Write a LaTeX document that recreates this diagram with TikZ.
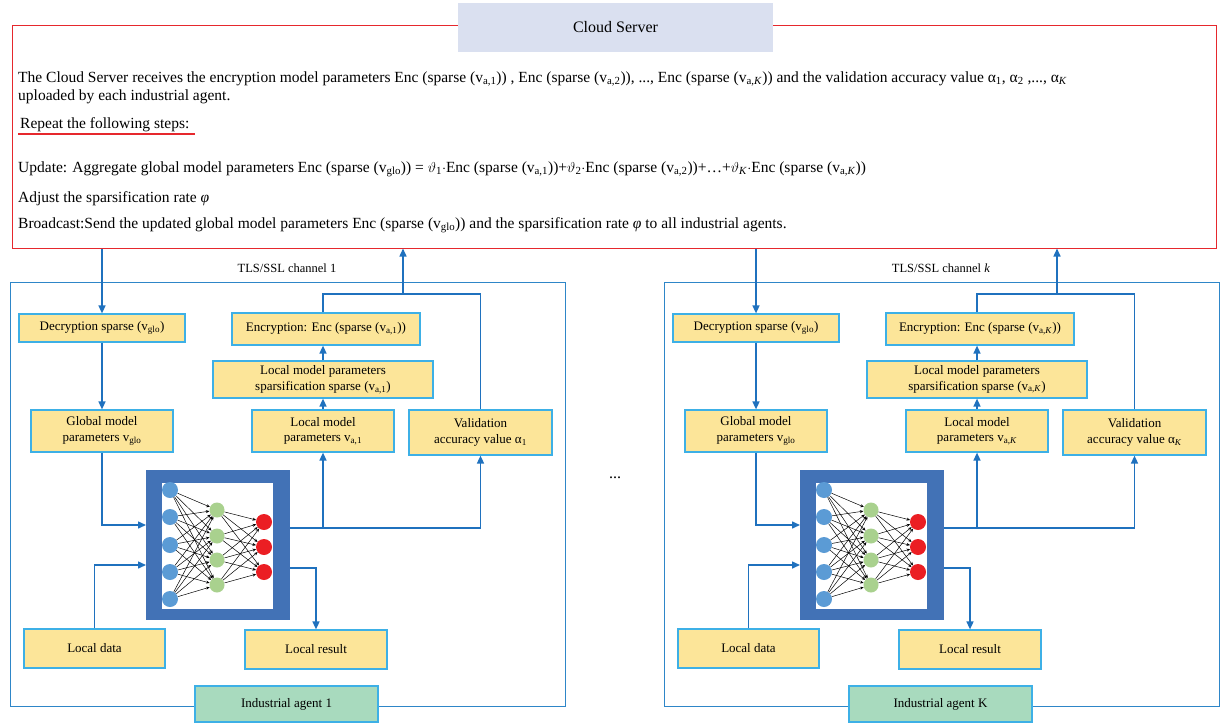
\documentclass[tikz,border=0pt]{standalone}
\usepackage{amsmath}
\usepackage{fontspec}
\setmainfont{Liberation Serif}
\usetikzlibrary{arrows.meta,calc}
\definecolor{lineB}{RGB}{31,113,190}
\definecolor{frameB}{RGB}{46,134,200}
\definecolor{boxB}{RGB}{61,176,230}
\definecolor{yelF}{RGB}{252,229,153}
\definecolor{grnF}{RGB}{168,218,190}
\definecolor{nnB}{RGB}{66,114,182}
\definecolor{cloudF}{RGB}{218,224,240}
\definecolor{redL}{RGB}{230,40,45}
\definecolor{inC}{RGB}{91,155,213}
\definecolor{hidC}{RGB}{169,209,142}
\definecolor{outC}{RGB}{235,30,35}
\newcommand\lo[1]{$_{\text{#1}}$}
\tikzset{
  ybox/.style={draw=boxB, line width=1.2pt, fill=yelF, inner sep=0pt, align=center,
    font=\fontsize{13}{15.5}\selectfont},
  gbox/.style={draw=boxB, line width=1.2pt, fill=grnF, inner sep=0pt, align=center,
    font=\fontsize{13}{15.5}\selectfont},
  agframe/.style={draw=frameB, line width=1pt, inner sep=0pt},
  chan/.style={font=\fontsize{12.5}{14}\selectfont},
  conn/.style={draw=lineB, line width=1.5pt},
  arr/.style={conn, -{Triangle[length=8pt,width=7pt]}},
  nnedge/.style={draw=black, line width=0.5pt, -{Stealth[length=3.5pt,width=3pt]}},
  neur/.style={circle, inner sep=0pt, minimum size=15pt},
  mtext/.style={anchor=base west, inner sep=0pt, font=\fontsize{15.5}{18}\selectfont},
}
\newcommand\agent[6]{%
\begin{scope}[xshift=#2]
  \node[chan] (#1ch) at (287,268) {TLS/SSL channel #5};
  \node[agframe, minimum width=555, minimum height=424] (#1fr) at (287.5,494) {};
  \node[ybox, minimum width=166, minimum height=28] (#1dec) at (102,328) {Decryption sparse (v\lo{glo})};
  \node[ybox, minimum width=188, minimum height=32] (#1enc) at (326,329) {Encryption: Enc (sparse (v\lo{#3}))};
  \node[ybox, minimum width=220, minimum height=37] (#1spa) at (323,379.5) {Local model parameters\\sparsification sparse (v\lo{#3})};
  \node[ybox, minimum width=142, minimum height=42] (#1glob) at (102,431) {Global model\\parameters v\lo{glo}};
  \node[ybox, minimum width=142, minimum height=42] (#1loc) at (323,431) {Local model\\parameters v\lo{#3}};
  \node[ybox, minimum width=143, minimum height=45] (#1val) at (480.5,432.5) {Validation\\accuracy value α\lo{#4}};
  \node[fill=nnB, minimum width=144, minimum height=150, inner sep=0pt] (#1nn) at (218,545) {};
  \node[fill=white, minimum width=111, minimum height=126, inner sep=0pt] (#1nnin) at (217.5,546) {};
  \foreach \k/\yy in {1/490,2/517,3/545,4/572,5/599} {\node[neur, fill=inC, minimum size=16pt] (#1i\k) at (170,\yy) {};}
  \foreach \k/\yy in {1/510,2/536,3/560,4/585} {\node[neur, fill=hidC] (#1h\k) at (217,\yy) {};}
  \foreach \k/\yy in {1/522,2/547,3/572} {\node[neur, fill=outC, minimum height=16pt] (#1o\k) at (264,\yy) {};}
  \foreach \a in {1,...,5} {\foreach \b in {1,...,4} {\draw[nnedge] (#1i\a) -- (#1h\b);}}
  \foreach \a in {1,...,4} {\foreach \b in {1,...,3} {\draw[nnedge] (#1h\a) -- (#1o\b);}}
  \node[ybox, minimum width=141, minimum height=39] (#1ld) at (94.5,648.5) {Local data};
  \node[ybox, minimum width=142, minimum height=39] (#1lr) at (316,649.5) {Local result};
  \node[gbox, minimum width=183, minimum height=36] (#1ag) at (286.5,704) {#6};
  % connectors
  \draw[arr] (#1dec.north |- srv.south) -- (#1dec.north);
  \draw[arr] (#1dec.south) -- (#1glob.north);
  \coordinate (#1in1) at (146,525);
  \coordinate (#1in2) at (146,565);
  \draw[arr] (#1glob.south) |- (#1in1);
  \draw[arr] (#1ld.north) |- (#1in2);
  \coordinate (#1out1) at (290,528);
  \coordinate (#1out2) at (290,568);
  \draw[arr] (#1out1) -| (#1val.south);
  \draw[arr] (#1loc.south |- #1out1) -- (#1loc.south);
  \draw[arr] (#1out2) -| (#1lr.north);
  \draw[arr] (#1loc.north) -- (#1spa.south);
  \draw[arr] (#1spa.north) -- (#1spa.north |- #1enc.south);
  \coordinate (#1top) at (323,294);
  \draw[conn] (#1top |- #1enc.north) -- (#1top) -| (#1val.north);
  \coordinate (#1up) at (403,294);
  \draw[arr] (#1up) -- (#1up |- srv.south);
\end{scope}}
\begin{document}
\begin{tikzpicture}[x=1pt,y=-1pt]
\path[use as bounding box] (0,0) rectangle (1220,725);
\node[draw=redL, line width=1pt, minimum width=1204, minimum height=222, inner sep=0pt] (srv) at (614,137) {};
\node[fill=cloudF, minimum width=315, minimum height=49, inner sep=0pt, font=\fontsize{16}{18}\selectfont] (cs) at (615.5,27.5) {Cloud Server};
\node[mtext] (l1) at (18,82) {The Cloud Server receives the encryption model parameters Enc (sparse (v\lo{a,1})) , Enc (sparse (v\lo{a,2})), ..., Enc (sparse (v\lo{a,\textit{K}})) and the validation accuracy value α\lo{1}, α\lo{2} ,..., α\lo{\textit{K}}};
\node[mtext] (l2) at (18,100) {uploaded by each industrial agent.};
\node[mtext] (rep) at (20,128) {Repeat the following steps:};
\draw[redL, line width=1.5pt] (18,134) -- (195,134);
\node[mtext] (upd) at (18,172) {Update: Aggregate global model parameters Enc (sparse (v\lo{glo})) = \(\vartheta\)\lo{1}$\cdot$Enc (sparse (v\lo{a,1}))+\(\vartheta\)\lo{2}$\cdot$Enc (sparse (v\lo{a,2}))+…+\(\vartheta\)\lo{\textit{K}}$\cdot$Enc (sparse (v\lo{a,\textit{K}}))};
\node[mtext] (adj) at (18,202) {Adjust the sparsification rate \textit{φ}};
\node[mtext] (bc) at (18,228) {Broadcast:Send the updated global model parameters Enc (sparse (v\lo{glo})) and the sparsification rate \textit{φ} to all industrial agents.};
\agent{L}{0pt}{a,1}{1}{1}{Industrial agent 1}
\agent{R}{654pt}{a,\textit{K}}{\textit{K}}{\textit{k}}{Industrial agent K}
\node[font=\fontsize{16}{18}\selectfont] (dots) at (615,478) {...};
\end{tikzpicture}
\end{document}
